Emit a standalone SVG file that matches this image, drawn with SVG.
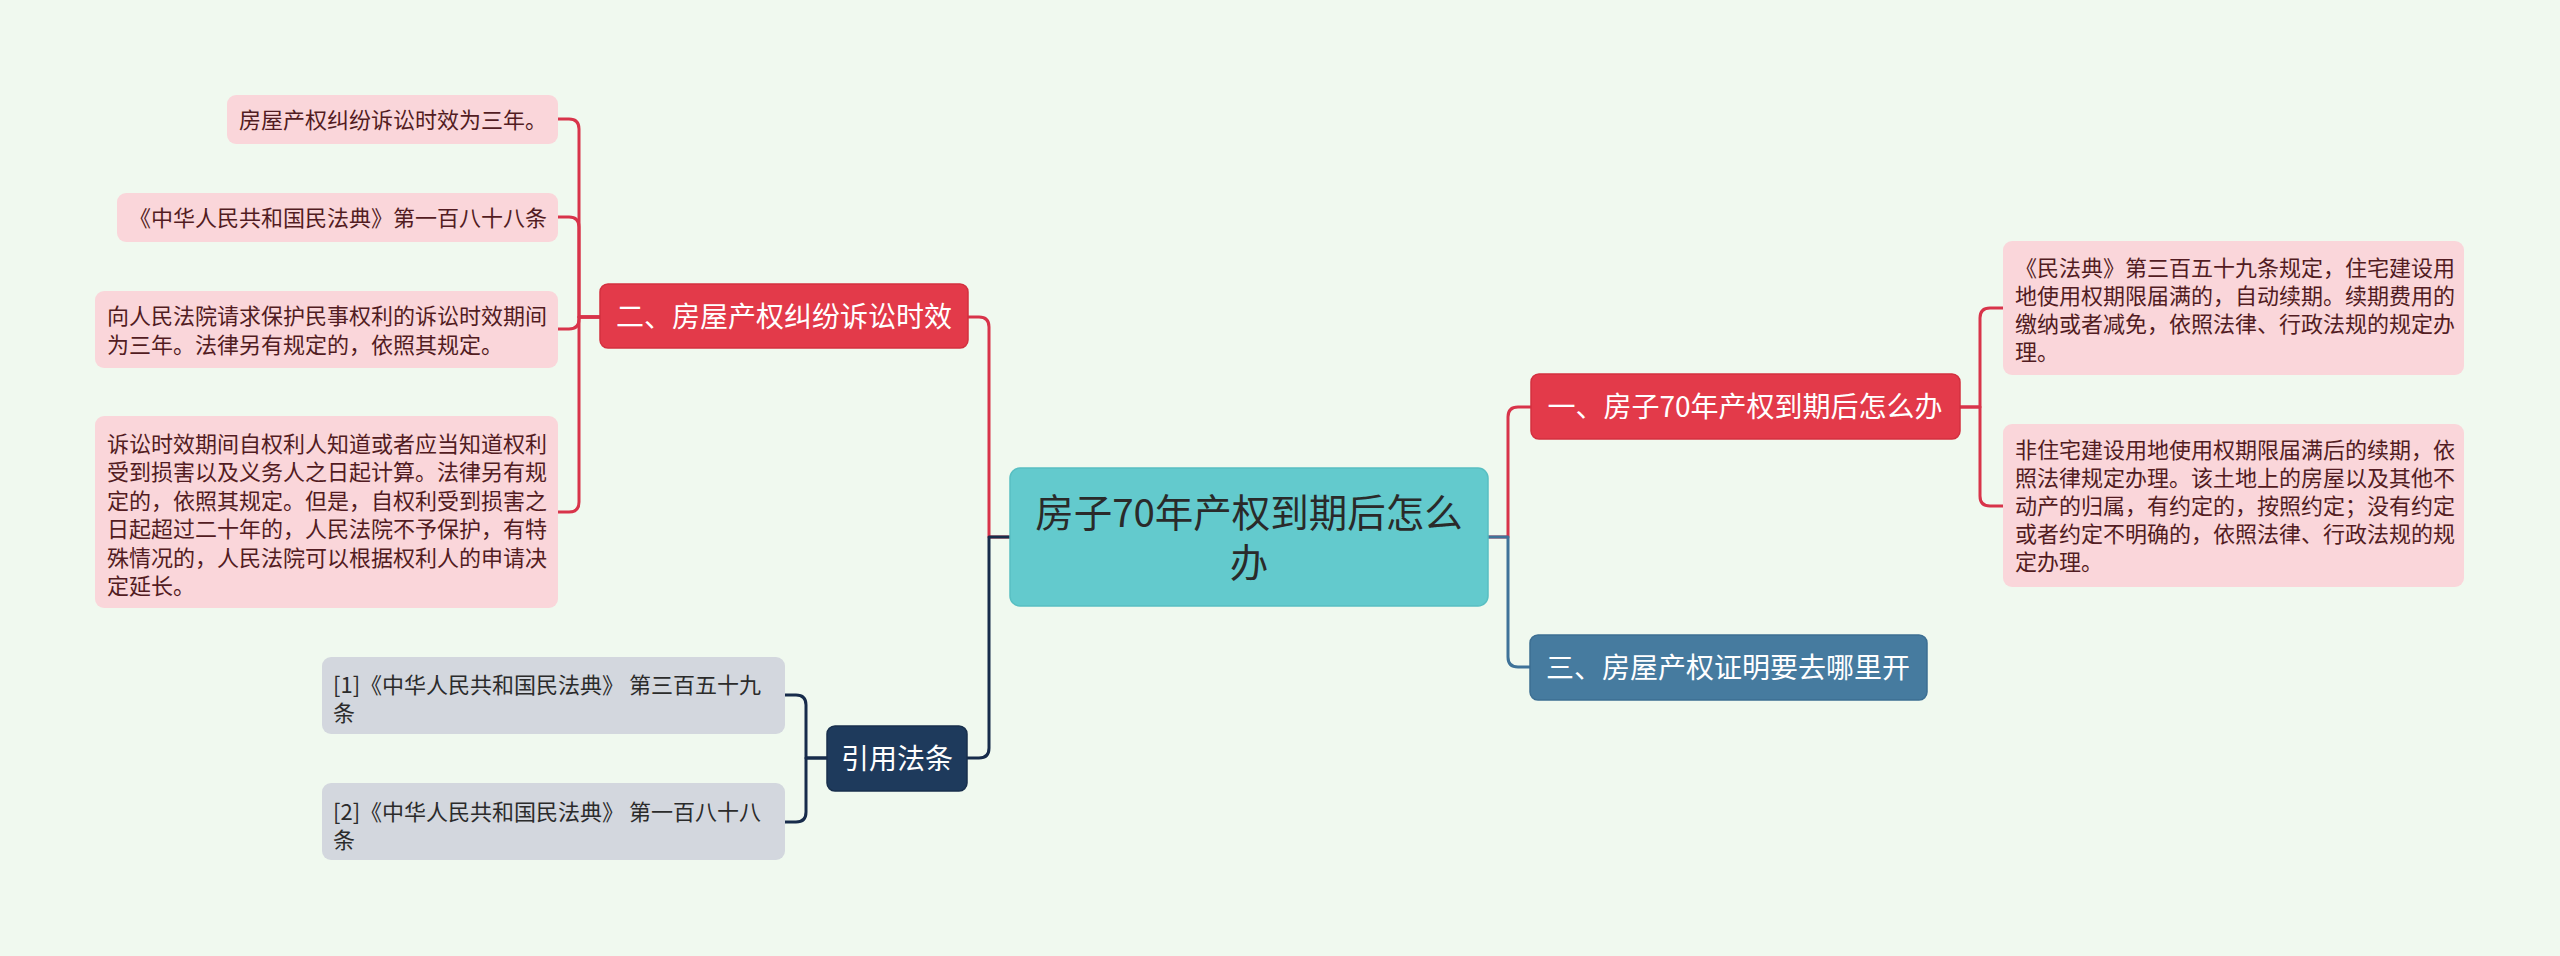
<svg xmlns="http://www.w3.org/2000/svg" width="2560" height="956" viewBox="0 0 2560 956">
<defs>
<style>
text{font-family:"Noto Sans CJK SC","Liberation Sans",sans-serif;}
.leaf rect{fill:#fad6da;}
.leaf text{font-size:22px;fill:#521c22;}
.ref rect{fill:#d3d7de;}
.ref text{font-size:22px;fill:#2b2b2b;}
.br text{font-size:28px;fill:#ffffff;text-anchor:middle;}
.red rect{fill:#e33a4a;stroke:#d3303f;stroke-width:1.5;}
.navy rect{fill:#1e3a5c;stroke:#182f4c;stroke-width:1.5;}
.blue rect{fill:#467b9f;stroke:#3c6f93;stroke-width:1.5;}
.conn path{fill:none;stroke-width:3;stroke-linecap:round;stroke-linejoin:round;}
.cr{stroke:#d8344a;}
.cn{stroke:#172c4b;}
.cb{stroke:#3f7399;}
</style>
</defs>
<rect width="2560" height="956" fill="#f0f9ef"/>
<g id="connectors" class="conn">
<path class="cr" d="M 968 317 H 979 Q 989 317 989 327 V 537 H 1010"/>
<path class="cn" d="M 967 758 H 979 Q 989 758 989 748 V 537 H 1010"/>
<path class="cr" d="M 1488 537 H 1508 V 417 Q 1508 407 1518 407 H 1531"/>
<path class="cb" d="M 1488 537 H 1508 V 657 Q 1508 667 1518 667 H 1530"/>
<path class="cr" d="M 600 317 H 579 V 129 Q 579 119 569 119 H 558"/>
<path class="cr" d="M 600 317 H 579 V 227 Q 579 217 569 217 H 558"/>
<path class="cr" d="M 600 317 H 579 V 319 Q 579 329 569 329 H 558"/>
<path class="cr" d="M 600 317 H 579 V 502 Q 579 512 569 512 H 558"/>
<path class="cr" d="M 1960 407 H 1980 V 318 Q 1980 308 1990 308 H 2003"/>
<path class="cr" d="M 1960 407 H 1980 V 496 Q 1980 506 1990 506 H 2003"/>
<path class="cn" d="M 827 758 H 806 V 705 Q 806 695 796 695 H 785"/>
<path class="cn" d="M 827 758 H 806 V 812 Q 806 822 796 822 H 785"/>
</g>
<g id="center">
<rect x="1010" y="468" width="478" height="138" rx="10" fill="#63cacd" stroke="#58bfc2" stroke-width="1.5"/>
<text x="1249" y="527" font-size="38.5" fill="#2a2a2a" text-anchor="middle">房子70年产权到期后怎么</text>
<text x="1249" y="577" font-size="38.5" fill="#2a2a2a" text-anchor="middle">办</text>
</g>
<g id="node-1" class="br red">
<rect x="1531" y="374" width="429" height="65" rx="8"/>
<text x="1745" y="417">一、房子70年产权到期后怎么办</text>
</g>
<g id="node-2" class="br red">
<rect x="600" y="284" width="368" height="64" rx="8"/>
<text x="784" y="327">二、房屋产权纠纷诉讼时效</text>
</g>
<g id="node-3" class="br blue">
<rect x="1530" y="635" width="397" height="65" rx="8"/>
<text x="1728" y="678">三、房屋产权证明要去哪里开</text>
</g>
<g id="node-ref" class="br navy">
<rect x="827" y="726" width="140" height="65" rx="8"/>
<text x="897" y="769">引用法条</text>
</g>
<g id="leaf-1-1" class="leaf">
<rect x="2003" y="241" width="461" height="134" rx="9"/>
<text x="2015" y="276">《民法典》第三百五十九条规定，住宅建设用</text>
<text x="2015" y="304">地使用权期限届满的，自动续期。续期费用的</text>
<text x="2015" y="332">缴纳或者减免，依照法律、行政法规的规定办</text>
<text x="2015" y="360">理。</text>
</g>
<g id="leaf-1-2" class="leaf">
<rect x="2003" y="424" width="461" height="163" rx="9"/>
<text x="2015" y="458">非住宅建设用地使用权期限届满后的续期，依</text>
<text x="2015" y="486">照法律规定办理。该土地上的房屋以及其他不</text>
<text x="2015" y="514">动产的归属，有约定的，按照约定；没有约定</text>
<text x="2015" y="542">或者约定不明确的，依照法律、行政法规的规</text>
<text x="2015" y="570">定办理。</text>
</g>
<g id="leaf-2-1" class="leaf">
<rect x="227" y="95" width="331" height="49" rx="9"/>
<text x="239" y="128">房屋产权纠纷诉讼时效为三年。</text>
</g>
<g id="leaf-2-2" class="leaf">
<rect x="117" y="193" width="441" height="49" rx="9"/>
<text x="129" y="226">《中华人民共和国民法典》第一百八十八条</text>
</g>
<g id="leaf-2-3" class="leaf">
<rect x="95" y="291" width="463" height="77" rx="9"/>
<text x="107" y="324">向人民法院请求保护民事权利的诉讼时效期间</text>
<text x="107" y="353">为三年。法律另有规定的，依照其规定。</text>
</g>
<g id="leaf-2-4" class="leaf">
<rect x="95" y="416" width="463" height="192" rx="9"/>
<text x="107" y="452">诉讼时效期间自权利人知道或者应当知道权利</text>
<text x="107" y="480">受到损害以及义务人之日起计算。法律另有规</text>
<text x="107" y="509">定的，依照其规定。但是，自权利受到损害之</text>
<text x="107" y="537">日起超过二十年的，人民法院不予保护，有特</text>
<text x="107" y="566">殊情况的，人民法院可以根据权利人的申请决</text>
<text x="107" y="594">定延长。</text>
</g>
<g id="ref-1" class="ref">
<rect x="322" y="657" width="463" height="77" rx="9"/>
<text x="333" y="693">[1]《中华人民共和国民法典》 第三百五十九</text>
<text x="333" y="721">条</text>
</g>
<g id="ref-2" class="ref">
<rect x="322" y="783" width="463" height="77" rx="9"/>
<text x="333" y="820">[2]《中华人民共和国民法典》 第一百八十八</text>
<text x="333" y="848">条</text>
</g>
</svg>
